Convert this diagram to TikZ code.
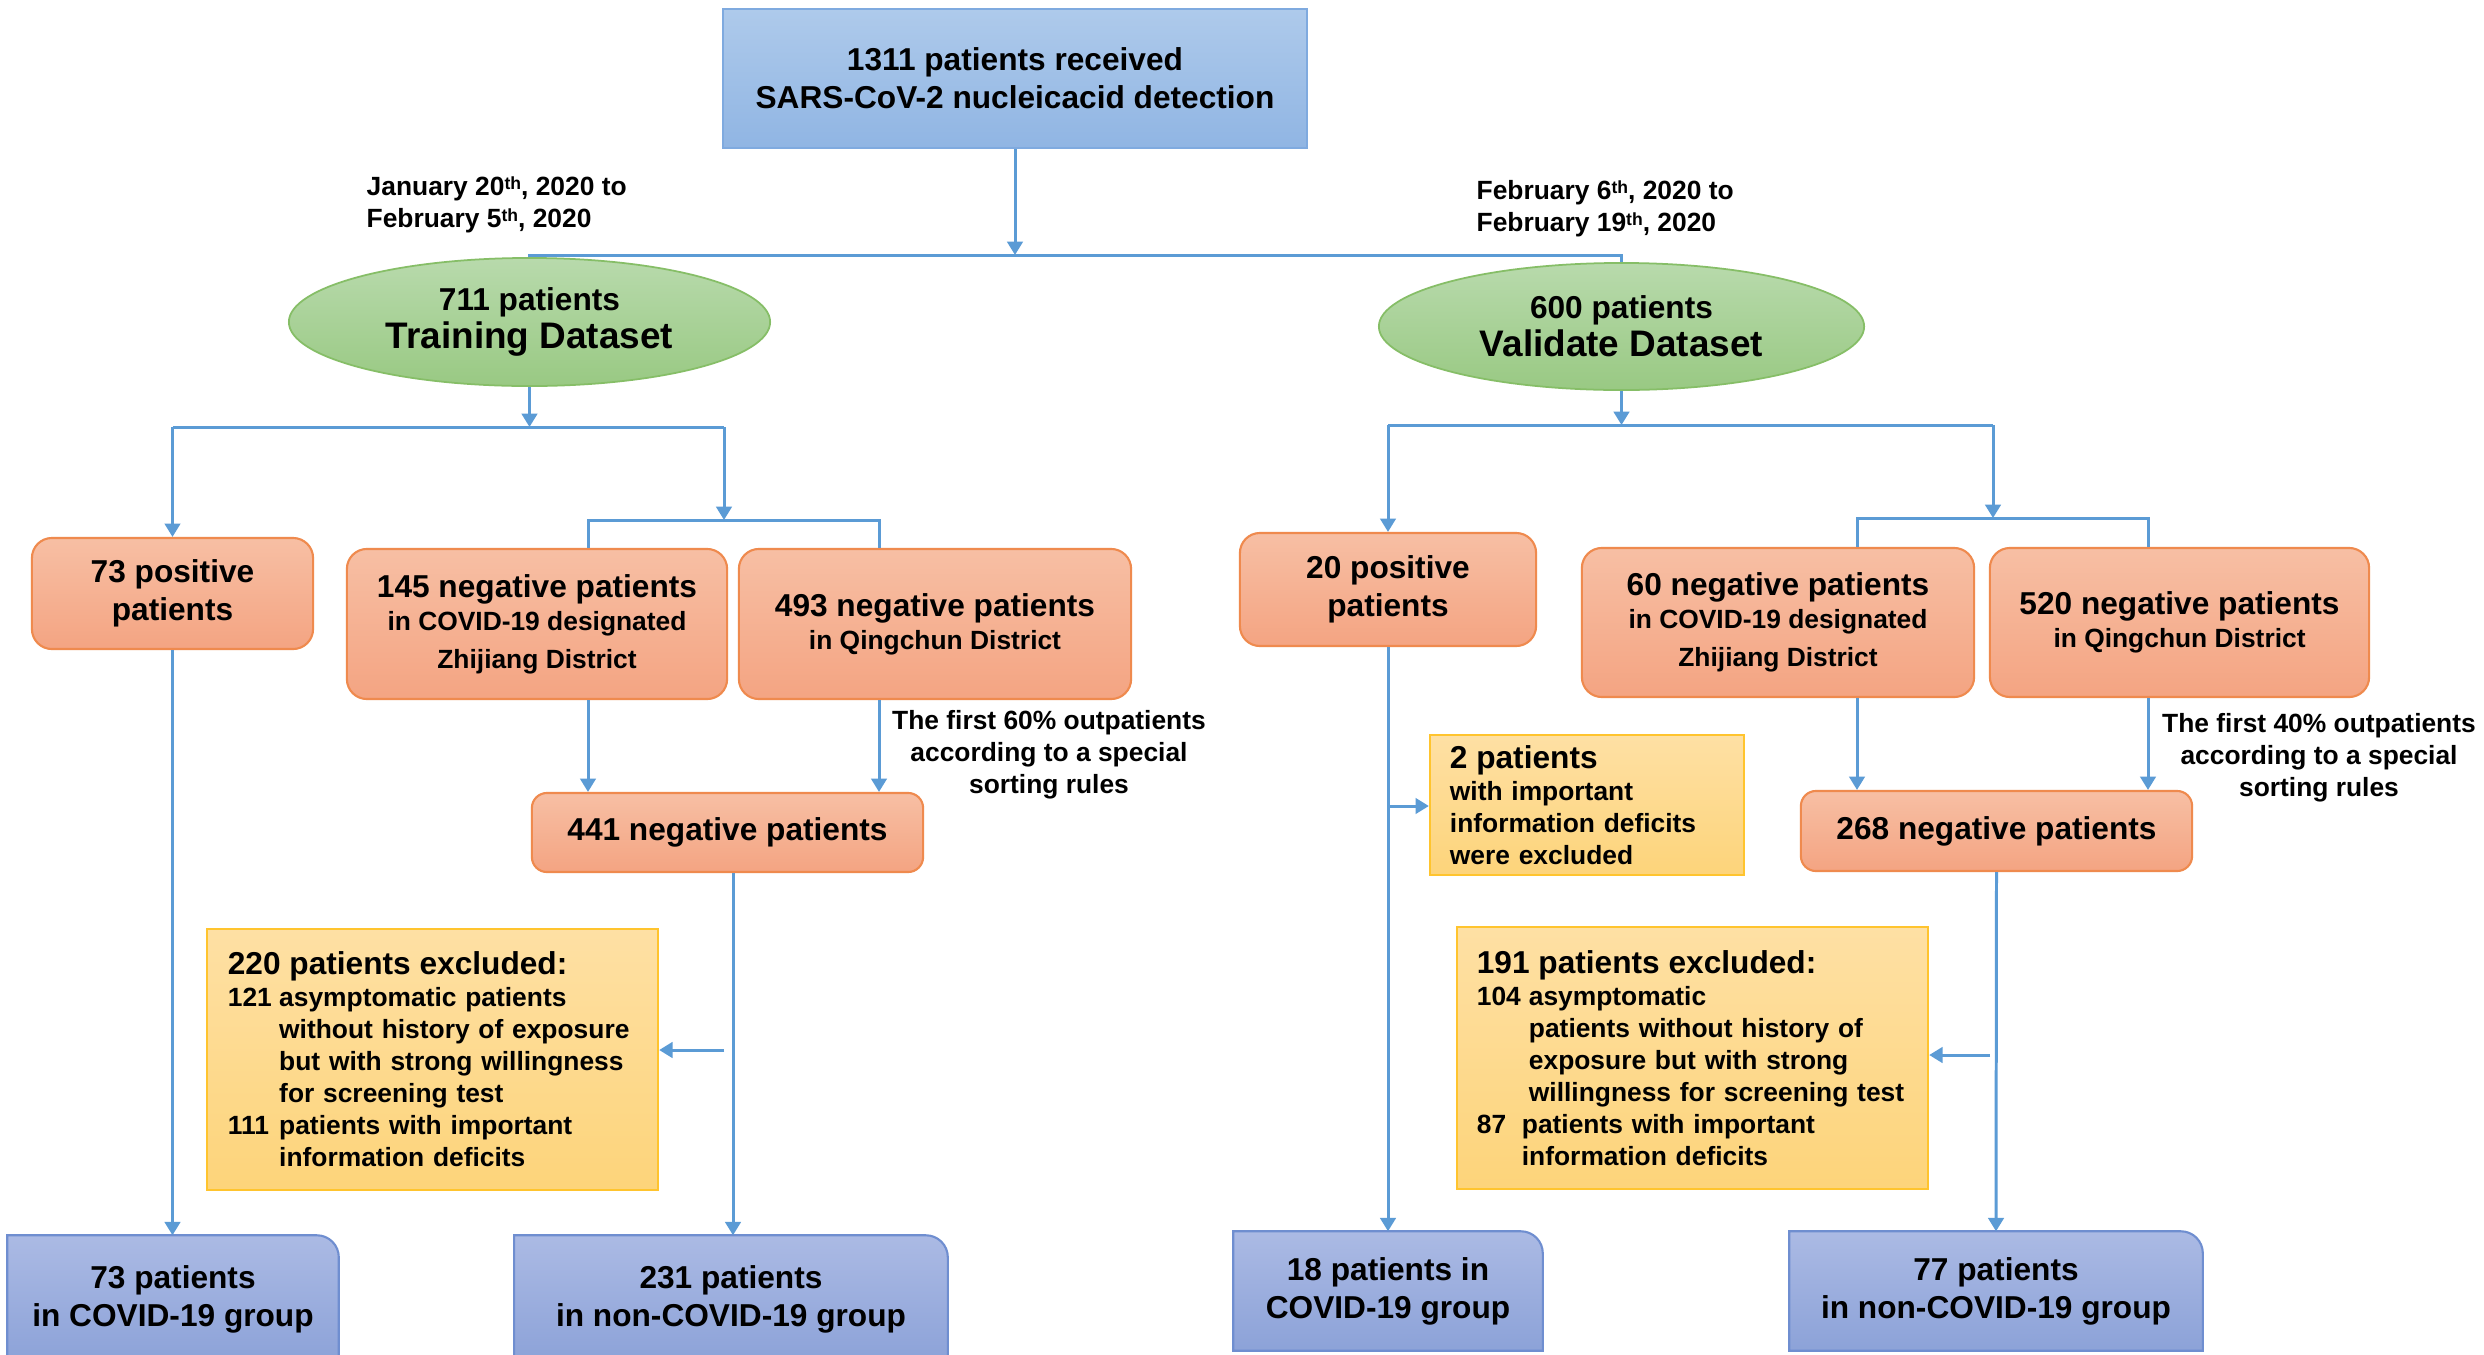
\documentclass[tikz,border=0pt]{standalone}
\usepackage{fontspec}
\setmainfont{Liberation Sans}
\usetikzlibrary{arrows.meta,shapes.geometric}
\pgfdeclarelayer{bg}
\pgfsetlayers{bg,main}
\definecolor{connc}{HTML}{5B9BD5}
\definecolor{topt}{HTML}{AECAEB}
\definecolor{topb}{HTML}{90B5E3}
\definecolor{topd}{HTML}{7FAADF}
\definecolor{grt}{HTML}{B8DAAC}
\definecolor{grb}{HTML}{99C983}
\definecolor{grd}{HTML}{86BE67}
\definecolor{ort}{HTML}{F7BFA4}
\definecolor{orb}{HTML}{F4A482}
\definecolor{ord}{HTML}{EF8A4E}
\definecolor{yet}{HTML}{FEE0A4}
\definecolor{yeb}{HTML}{FDD47A}
\definecolor{yed}{HTML}{FFC42E}
\definecolor{pbt}{HTML}{ABBAE4}
\definecolor{pbb}{HTML}{8CA2D8}
\definecolor{pbd}{HTML}{6F8ED0}
\newcommand{\mySA}{\fontsize{9}{10.8}\selectfont\bfseries}
\newcommand{\mySB}{\fontsize{7.5}{9.1}\selectfont\bfseries}
\newcommand{\mySC}{\fontsize{10.5}{11.4}\selectfont\bfseries}
\newcommand{\myth}{\raisebox{0.45ex}{\fontsize{5}{5}\selectfont th}}
\begin{document}
\begin{tikzpicture}[x=0.01cm,y=-0.01cm,
  conn/.style={draw=connc,line width=0.85pt,line join=miter},
  arr/.style={conn,-{Triangle[length=3.8pt,width=4.4pt]}},
  topbox/.style={rectangle,draw=topd,line width=0.6pt,top color=topt,bottom color=topb,inner sep=0pt,align=center,font=\mySA},
  grell/.style={ellipse,draw=grd,line width=0.5pt,top color=grt,bottom color=grb,inner sep=0pt,align=center,font=\mySA},
  orbox/.style={rectangle,rounded corners=0.2cm,draw=ord,line width=0.6pt,top color=ort,bottom color=orb,inner sep=0pt,align=center,font=\mySA},
  yebox/.style={rectangle,draw=yed,line width=0.6pt,top color=yet,bottom color=yeb,inner ysep=0pt,align=left,font=\mySB},
  grptext/.style={rectangle,inner sep=0pt,align=center,font=\mySA},
  grpshape/.style={draw=pbd,line width=0.6pt,top color=pbt,bottom color=pbb},
  lbl/.style={inner sep=0pt,font=\mySB}]
\useasboundingbox (0,0) rectangle (2484,1354);

% nodes
\node[topbox,minimum width=5.84cm,minimum height=1.39cm] (top) at (1015,78.5)
  {1311 patients received\\SARS-CoV-2 nucleicacid detection};

\node[lbl,anchor=west,align=left] (dL) at (366,205)
  {January 20\myth, 2020 to\\February 5\myth, 2020};
\node[lbl,anchor=west,align=left] (dR) at (1476,209)
  {February 6\myth, 2020 to\\February 19\myth, 2020};

\node[grell,minimum width=4.81cm,minimum height=1.28cm] (L) at (529.5,322)
  {711 patients\\\mySC Training Dataset};
\node[grell,minimum width=4.85cm,minimum height=1.27cm] (R) at (1621.5,326.5)
  {600 patients\\\mySC Validate Dataset};

\node[orbox,minimum width=2.81cm,minimum height=1.11cm] (pos1) at (172.5,593.5)
  {73 positive\\patients};
\node[orbox,minimum width=3.80cm,minimum height=1.50cm] (n145) at (537,624)
  {145 negative patients\\[-1.5pt]\mySB in COVID-19 designated\\\mySB Zhijiang District};
\node[orbox,minimum width=3.92cm,minimum height=1.50cm] (n493) at (935,624)
  {493 negative patients\\[-1.5pt]\mySB in Qingchun District};
\node[orbox,rounded corners=0.15cm,minimum width=3.91cm,minimum height=0.79cm] (n441) at (727.5,832.5)
  {441 negative patients};
\node[lbl,align=center] (r60) at (1049,755)
  {The first 60\% outpatients\\according to a special\\sorting rules};

\node[yebox,minimum width=4.51cm,minimum height=2.61cm,inner xsep=0.21cm,text width=4.09cm] (ex1) at (432.5,1059.5)
  {{\mySA 220 patients excluded:}\\
   \makebox[14.6pt][l]{121}asymptomatic patients\\
   \hspace*{14.6pt}without history of exposure\\
   \hspace*{14.6pt}but with strong willingness\\
   \hspace*{14.6pt}for screening test\\
   \makebox[14.6pt][l]{111}patients with important\\
   \hspace*{14.6pt}information deficits};

\node[orbox,minimum width=2.96cm,minimum height=1.13cm] (pos2) at (1388,589.5)
  {20 positive\\patients};
\node[orbox,minimum width=3.92cm,minimum height=1.49cm] (n60) at (1778,622.5)
  {60 negative patients\\[-1.5pt]\mySB in COVID-19 designated\\\mySB Zhijiang District};
\node[orbox,minimum width=3.79cm,minimum height=1.49cm] (n520) at (2179.5,622.5)
  {520 negative patients\\[-1.5pt]\mySB in Qingchun District};
\node[orbox,rounded corners=0.15cm,minimum width=3.91cm,minimum height=0.80cm] (n268) at (1996.5,831)
  {268 negative patients};
\node[lbl,align=center] (r40) at (2319,758)
  {The first 40\% outpatients\\according to a special\\sorting rules};

\node[yebox,minimum width=3.14cm,minimum height=1.40cm,inner xsep=0.20cm,text width=2.74cm] (ex0) at (1587,805)
  {{\mySA 2 patients}\\with important\\information deficits\\were excluded};

\node[yebox,minimum width=4.71cm,minimum height=2.62cm,inner xsep=0.20cm,text width=4.31cm] (ex2) at (1692.5,1058)
  {{\mySA 191 patients excluded:}\\
   \makebox[14.8pt][l]{104}asymptomatic\\
   \hspace*{14.8pt}patients without history of\\
   \hspace*{14.8pt}exposure but with strong\\
   \hspace*{14.8pt}willingness for screening test\\
   \makebox[12.8pt][l]{87}patients with important\\
   \hspace*{12.8pt}information deficits};

\node[grptext,minimum width=3.30cm,minimum height=1.26cm] (g73) at (173,1299)
  {73 patients\\in COVID-19 group};
\node[grptext,minimum width=4.32cm,minimum height=1.26cm] (g231) at (731,1299)
  {231 patients\\in non-COVID-19 group};
\node[grptext,minimum width=3.08cm,minimum height=1.18cm] (g18) at (1388,1291)
  {18 patients in\\COVID-19 group};
\node[grptext,minimum width=4.12cm,minimum height=1.18cm] (g77) at (1996,1291)
  {77 patients\\in non-COVID-19 group};

\begin{pgfonlayer}{bg}
\fill[white] (0,0) rectangle (2484,1354);
\foreach \g in {g73,g231,g18,g77}{
  \path[grpshape] (\g.south west) -- (\g.north west) -- ([xshift=-0.22cm]\g.north east)
    arc[start angle=90,end angle=0,radius=0.22cm] -- (\g.south east) -- cycle;
}
\end{pgfonlayer}

% connectors: top
\coordinate (jT) at (1015,255);
\draw[arr] (top.south) -- (jT);
\draw[conn] (L.north) -- (L.north |- jT) -- (R.north |- jT) -- (R.north);

% left side
\coordinate (jL) at (529.5,427);
\coordinate (jLr) at (724,427);
\coordinate (jL2) at (724,520);
\draw[arr] (L.south) -- (jL);
\draw[conn] (pos1.north |- jL) -- (jLr);
\draw[arr] (pos1.north |- jL) -- (pos1.north);
\draw[arr] (jLr) -- (jL2);
\coordinate (a145) at (588,520);
\coordinate (a493) at (879,520);
\draw[conn] (a145 |- n145.north) -- (a145) -- (a493) -- (a493 |- n493.north);
\draw[arr] (a145 |- n145.south) -- (a145 |- n441.north);
\draw[arr] (a493 |- n493.south) -- (a493 |- n441.north);
\coordinate (c441) at (733,0);
\draw[arr] (c441 |- n441.south) -- (c441 |- g231.north);
\coordinate (x1) at (724,1050);
\draw[arr] (x1) -- (ex1.east |- x1);
\draw[arr] (pos1.south) -- (pos1.south |- g73.north);

% right side
\coordinate (jR) at (1621.5,425);
\coordinate (jRl) at (1388,425);
\coordinate (jRr) at (1993,425);
\coordinate (jR2) at (1993,518);
\draw[arr] (R.south) -- (jR);
\draw[conn] (jRl) -- (jRr);
\draw[arr] (jRl) -- (pos2.north);
\draw[arr] (jRr) -- (jR2);
\coordinate (a60) at (1857,518);
\coordinate (a520) at (2148,518);
\draw[conn] (a60 |- n60.north) -- (a60) -- (a520) -- (a520 |- n520.north);
\draw[arr] (a60 |- n60.south) -- (a60 |- n268.north);
\draw[arr] (a520 |- n520.south) -- (a520 |- n268.north);
\draw[arr] (n268.south) -- (g77.north);
\coordinate (x2) at (1990,1055);
\draw[arr] (x2) -- (ex2.east |- x2);
\draw[arr] (pos2.south) -- (pos2.south |- g18.north);
\coordinate (x0) at (1389,806);
\draw[arr] (x0) -- (ex0.west |- x0);
\end{tikzpicture}
\end{document}
